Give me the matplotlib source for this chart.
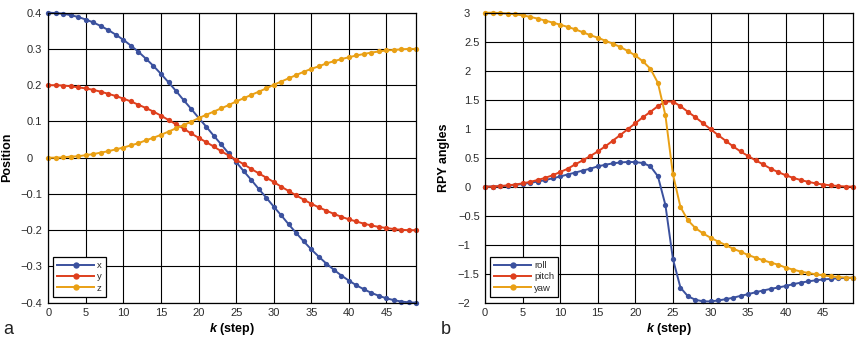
import matplotlib
matplotlib.use("Agg")
import matplotlib.pyplot as plt
from matplotlib.transforms import ScaledTranslation

plt.rcParams['font.family'] = ['Liberation Sans', 'DejaVu Sans']
plt.rcParams['font.sans-serif'] = ['Liberation Sans', 'DejaVu Sans']
plt.rcParams['mathtext.fontset'] = 'custom'
plt.rcParams['mathtext.bfit'] = 'Liberation Sans:italic:bold'

# time step
k = list(range(50))

# Cartesian position of the end-effector
pos_x = [0.400, 0.399, 0.397, 0.393, 0.388, 0.381, 0.373, 0.363, 0.352, 0.339,
         0.325, 0.309, 0.292, 0.273, 0.253, 0.231, 0.208, 0.184, 0.159, 0.135,
         0.110, 0.086, 0.061, 0.037, 0.012, -0.012, -0.037, -0.061, -0.086, -0.110,
         -0.135, -0.159, -0.184, -0.208, -0.231, -0.253, -0.273, -0.292, -0.309, -0.325,
         -0.339, -0.352, -0.363, -0.373, -0.381, -0.388, -0.393, -0.397, -0.399, -0.400]
pos_y = [0.200, 0.200, 0.199, 0.197, 0.194, 0.191, 0.187, 0.182, 0.176, 0.170,
         0.163, 0.155, 0.146, 0.137, 0.127, 0.116, 0.104, 0.092, 0.080, 0.067,
         0.055, 0.043, 0.031, 0.018, 0.006, -0.006, -0.018, -0.031, -0.043, -0.055,
         -0.067, -0.080, -0.092, -0.104, -0.116, -0.127, -0.137, -0.146, -0.155, -0.163,
         -0.170, -0.176, -0.182, -0.187, -0.191, -0.194, -0.197, -0.199, -0.200, -0.200]
pos_z = [0.000, 0.000, 0.001, 0.003, 0.004, 0.007, 0.010, 0.014, 0.018, 0.023,
         0.028, 0.034, 0.040, 0.048, 0.055, 0.063, 0.072, 0.081, 0.090, 0.099,
         0.109, 0.118, 0.127, 0.136, 0.145, 0.155, 0.164, 0.173, 0.182, 0.191,
         0.201, 0.210, 0.219, 0.228, 0.237, 0.245, 0.252, 0.260, 0.266, 0.272,
         0.277, 0.282, 0.286, 0.290, 0.293, 0.296, 0.297, 0.299, 0.300, 0.300]

# roll-pitch-yaw angles (rad)
roll = [0.000, 0.003, 0.006, 0.017, 0.029, 0.046, 0.066, 0.088, 0.113, 0.145,
        0.176, 0.210, 0.243, 0.278, 0.310, 0.350, 0.378, 0.402, 0.418, 0.426,
        0.424, 0.408, 0.352, 0.180, -0.316, -1.247, -1.740, -1.890, -1.950, -1.977,
        -1.978, -1.962, -1.940, -1.915, -1.882, -1.853, -1.820, -1.790, -1.762, -1.738,
        -1.712, -1.680, -1.655, -1.632, -1.614, -1.600, -1.588, -1.579, -1.573, -1.571]
pitch = [0.000, 0.003, 0.011, 0.023, 0.037, 0.057, 0.083, 0.115, 0.152, 0.197,
         0.252, 0.310, 0.385, 0.454, 0.528, 0.607, 0.695, 0.793, 0.891, 0.992,
         1.094, 1.196, 1.290, 1.388, 1.468, 1.468, 1.388, 1.290, 1.196, 1.094,
         0.992, 0.891, 0.793, 0.695, 0.607, 0.528, 0.454, 0.385, 0.310, 0.252,
         0.197, 0.152, 0.115, 0.083, 0.057, 0.037, 0.023, 0.011, 0.003, 0.000]
yaw = [3.000, 2.999, 2.994, 2.984, 2.971, 2.954, 2.928, 2.898, 2.864, 2.829,
       2.793, 2.754, 2.713, 2.663, 2.612, 2.569, 2.517, 2.466, 2.408, 2.339,
       2.262, 2.161, 2.034, 1.790, 1.230, 0.215, -0.350, -0.580, -0.715, -0.805,
       -0.880, -0.945, -1.006, -1.069, -1.121, -1.178, -1.224, -1.268, -1.308, -1.345,
       -1.395, -1.430, -1.463, -1.488, -1.510, -1.530, -1.546, -1.558, -1.566, -1.571]

k_ticks = [0, 5, 10, 15, 20, 25, 30, 35, 40, 45]
pos_ticks = [0.4, 0.3, 0.2, 0.1, 0.0, -0.1, -0.2, -0.3, -0.4]
pos_ticklabels = ['0.4', '0.3', '0.2', '0.1', '0', '\u22120.1', '\u22120.2', '\u22120.3', '\u22120.4']
rpy_ticks = [3, 2.5, 2, 1.5, 1, 0.5, 0, -0.5, -1, -1.5, -2]
rpy_ticklabels = ['3', '2.5', '2', '1.5', '1', '0.5', '0', '\u22120.5', '\u22121', '\u22121.5', '\u22122']

BLUE = '#3B519E'
RED = '#DE3F1D'
ORANGE = '#E9A015'
TICK_COLOR = '#2b2b2b'

fig = plt.figure(figsize=(8.61, 3.39), dpi=100)
ax1 = fig.add_axes([0.0561, 0.1071, 0.4276, 0.8555])
ax2 = fig.add_axes([0.5633, 0.1071, 0.4278, 0.8555])


def style_axes(ax, yticks, yticklabels, ylim, ylabel, ypad):
    ax.set_xlim(0, 49)
    ax.set_ylim(*ylim)
    ax.set_xticks(k_ticks)
    ax.set_xticklabels([str(t) for t in k_ticks])
    ax.set_yticks(yticks)
    ax.set_yticklabels(yticklabels)
    ax.grid(True, color='black', linewidth=0.8)
    ax.set_axisbelow(True)
    for sp in ax.spines.values():
        sp.set_color('black')
        sp.set_linewidth(0.9)
    ax.tick_params(axis='both', length=0, labelsize=8, colors=TICK_COLOR)
    ax.tick_params(axis='x', pad=4)
    ax.tick_params(axis='y', pad=ypad)
    for lab in ax.get_yticklabels():
        lab.set_horizontalalignment('right')
    # line integer labels up with the units digit of the decimal labels
    shift = ScaledTranslation(-6.8 / 72, 0, fig.dpi_scale_trans)
    for tick, text in zip(ax.yaxis.get_major_ticks(), yticklabels):
        if '.' not in text:
            tick.label1.set_transform(tick.label1.get_transform() + shift)
    ax.set_xlabel(r'$\mathbfit{k}$ (step)', fontsize=9, fontweight='bold')
    ax.xaxis.set_label_coords(0.5, -0.063)
    ax.set_ylabel(ylabel, fontsize=9, fontweight='bold')
    ax.yaxis.set_label_coords(-0.096, 0.5)


line_kw = dict(marker='o', markersize=3.8, linewidth=1.4, markeredgewidth=0, clip_on=False)

ax1.plot(k, pos_x, color=BLUE, label='x', **line_kw)
ax1.plot(k, pos_y, color=RED, label='y', **line_kw)
ax1.plot(k, pos_z, color=ORANGE, label='z', **line_kw)
style_axes(ax1, pos_ticks, pos_ticklabels, (-0.4, 0.4), 'Position', 4.6)

ax2.plot(k, roll, color=BLUE, label='roll', **line_kw)
ax2.plot(k, pitch, color=RED, label='pitch', **line_kw)
ax2.plot(k, yaw, color=ORANGE, label='yaw', **line_kw)
style_axes(ax2, rpy_ticks, rpy_ticklabels, (-2, 3), 'RPY angles', 3.8)

leg_kw = dict(loc='lower left', borderaxespad=0, fontsize=6.8, handlelength=3.9,
              handletextpad=0.3, labelspacing=0.25, borderpad=0.45, fancybox=False,
              framealpha=1, edgecolor='black', markerscale=1.2)
leg1 = ax1.legend(bbox_to_anchor=(0.0128, 0.0197), **leg_kw)
leg2 = ax2.legend(bbox_to_anchor=(0.0136, 0.0197), **leg_kw)
for leg in (leg1, leg2):
    leg.get_frame().set_linewidth(0.9)
    for t in leg.get_texts():
        t.set_color(TICK_COLOR)

fig.text(3 / 861, 1 - 334 / 339, 'a', fontsize=13, va='baseline', ha='left', color='#222222')
fig.text(441 / 861, 1 - 334 / 339, 'b', fontsize=13, va='baseline', ha='left', color='#222222')

fig.savefig('out.png', dpi=100)
